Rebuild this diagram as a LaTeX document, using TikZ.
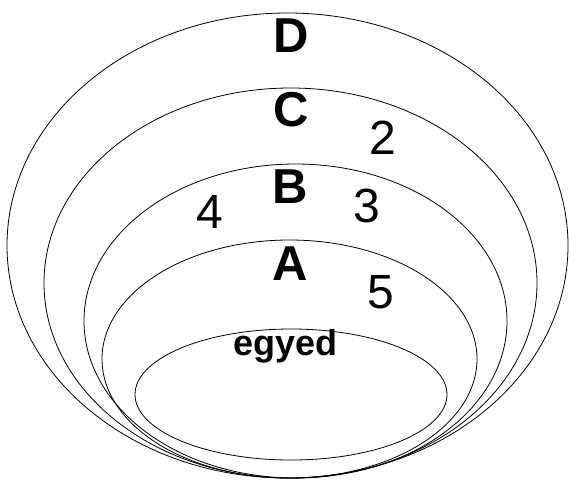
\documentclass[tikz,border=0pt]{standalone}
\usepackage{fontspec}
\setmainfont{Liberation Sans}
\begin{document}
\begin{tikzpicture}[x=1pt,y=-1pt,
    ring/.style={draw=black,line width=0.8pt},
    setname/.style={inner sep=0pt,anchor=base,font=\fontsize{49}{49}\selectfont\bfseries},
    count/.style={inner sep=0pt,anchor=base,font=\fontsize{48}{48}\selectfont}]

                \useasboundingbox (0,0) rectangle (569,480);

                \draw[ring] (287.5,245.5) ellipse [x radius=280.5, y radius=232.5];
                \draw[ring] (290.5,283) ellipse [x radius=246.5, y radius=195];
                \draw[ring] (295.5,321) ellipse [x radius=211.5, y radius=157];
                \draw[ring] (289.5,359) ellipse [x radius=187.5, y radius=119];
                \draw[ring] (291,394.5) ellipse [x radius=156, y radius=65.5];

                \node[setname] (D) at (291,52) {D};
                \node[setname] (C) at (291,126) {C};
                \node[setname] (B) at (290,203) {B};
                \node[setname] (A) at (290,280) {A};
                \node[inner sep=0pt,anchor=base,font=\fontsize{36}{36}\selectfont\bfseries] (egyed) at (285.5,355) {egyed};

                \node[count] (n2) at (382.5,154) {2};
                \node[count] (n3) at (366.5,222) {3};
                \node[count] (n4) at (210,228) {4};
                \node[count] (n5) at (380.5,308) {5};

            \end{tikzpicture}
\end{document}
